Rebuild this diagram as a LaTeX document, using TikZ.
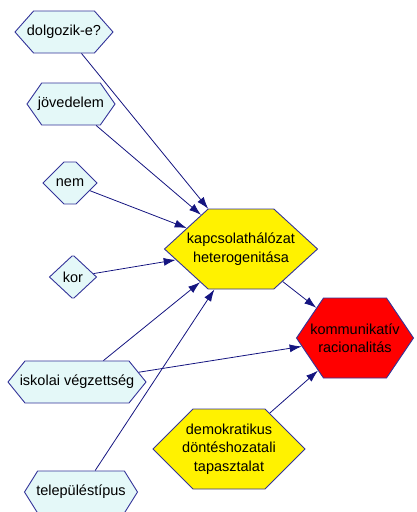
\documentclass[tikz,border=0pt]{standalone}
\usepackage{fontspec}
\setmainfont{Liberation Sans}
\usetikzlibrary{shapes.symbols,arrows.meta}
\definecolor{hexline}{RGB}{51,51,153}
\definecolor{arrline}{RGB}{20,20,128}
\definecolor{paleblue}{RGB}{228,248,248}
\tikzset{
	hexbase/.style={shape=signal, signal to=east and west, draw=hexline, line width=0.9pt,
		inner xsep=-40pt, inner ysep=0pt, align=center,
		font=\fontsize{14.5}{18.5}\selectfont},
	attrnode/.style={hexbase, fill=paleblue, minimum height=42pt},
	midnode/.style={hexbase, fill=yellow, minimum height=80pt},
	targetnode/.style={hexbase, fill=red, minimum height=80pt},
	link/.style={draw=arrline, line width=0.8pt, -{Latex[length=12pt,width=8pt]}}
}

\begin{document}
\begin{tikzpicture}[x=1pt,y=-1pt]
		%%%%% START %%%%%
		\useasboundingbox (0,0) rectangle (417,512);
		
		\node[attrnode, minimum width=98pt, signal pointer angle=97] (dolgozik) at (64,32) {dolgozik-e?};
		\node[attrnode, minimum width=88pt, signal pointer angle=110] (jovedelem) at (71,104) {jövedelem};
		\node[attrnode, minimum width=54pt, signal pointer angle=90] (nem) at (70,183) {nem};
		\node[attrnode, minimum width=47pt, signal pointer angle=86] (kor) at (73,277) {kor};
		\node[attrnode, minimum width=138pt, signal pointer angle=102] (iskola) at (77,382) {iskolai végzettség};
		\node[attrnode, minimum width=113pt, signal pointer angle=116] (telepules) at (81,492) {településtípus};
		
		\node[midnode, minimum width=153pt, signal pointer angle=85] (halozat) at (241,249) {kapcsolathálózat\\heterogenitása};
		\node[midnode, minimum width=152pt, signal pointer angle=90] (demokr) at (229,449) {demokratikus\\döntéshozatali\\tapasztalat};
		\node[targetnode, minimum width=117pt, signal pointer angle=112] (komm) at (355,338) {kommunikatív\\racionalitás};
		
		\draw[link] (dolgozik) -- (halozat);
		\draw[link] (jovedelem) -- (halozat);
		\draw[link] (nem) -- (halozat);
		\draw[link] (kor) -- (halozat);
		\draw[link] (iskola) -- (halozat);
		\draw[link] (telepules) -- (halozat);
		
		\draw[link] (iskola) -- (komm);
		\draw[link] (halozat) -- (komm);
		\draw[link] (demokr) -- (komm);
		%%%%% END %%%%%
\end{tikzpicture}
\end{document}
